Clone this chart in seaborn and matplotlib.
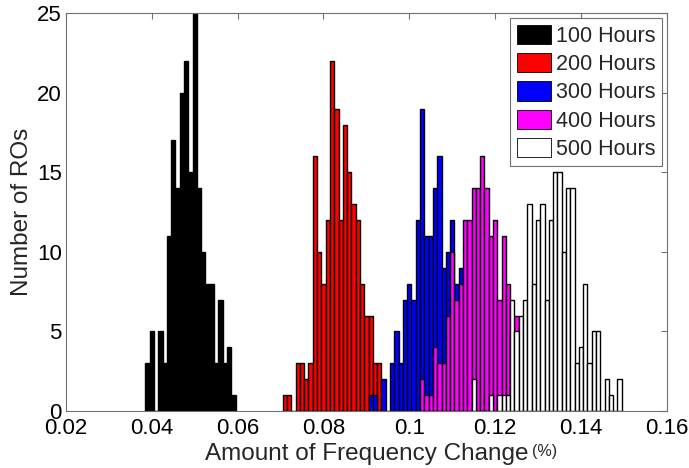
#  Гистограммы сдвига частоты RO после 100...500 часов старения
import numpy as np
import pandas as pd
import matplotlib
matplotlib.use('Agg')
import matplotlib.pyplot as plt
import seaborn as sns

# _________________________________________________
# ДАННЫЕ (ширина бина 0.001, центры бинов кратны 0.001)

BIN_WIDTH = 0.001

labels = ['100 Hours', '200 Hours', '300 Hours', '400 Hours', '500 Hours']
colors = ['#000000', '#ff0000', '#0000ff', '#ff00ff', '#ffffff']

# центр первого бина каждой серии
first_bins = [0.039, 0.071, 0.091, 0.103, 0.115]

counts_100 = [3, 5, 0, 5, 3, 11, 17, 14, 20, 22, 15, 25, 14, 10, 8, 8, 3, 7, 3, 4, 1]
counts_200 = [1, 1, 0, 3, 3, 2, 3, 16, 10, 8, 12, 22, 19, 12, 18, 15, 13, 12, 8, 6,
              6, 3, 3]
counts_300 = [1, 1, 0, 2, 0, 3, 5, 3, 7, 8, 7, 12, 19, 11, 11, 14, 16, 9, 10, 12,
              8, 9, 7, 6, 5, 4, 3, 2, 1]
counts_400 = [2, 1, 1, 4, 3, 3, 6, 10, 7, 8, 12, 12, 14, 14, 16, 14, 11, 12, 7, 11,
              8, 5, 6, 3, 2]
counts_500 = [2, 0, 0, 0, 1, 0, 1, 1, 1, 7, 5, 6, 7, 13, 8, 12, 13, 7, 12, 15,
              15, 10, 14, 14, 3, 4, 8, 3, 5, 5, 0, 2, 1, 0, 2]

all_counts = [counts_100, counts_200, counts_300, counts_400, counts_500]

x_ticks = [0.02, 0.04, 0.06, 0.08, 0.1, 0.12, 0.14, 0.16]
x_tick_labels = ['0.02', '0.04', '0.06', '0.08', '0.1', '0.12', '0.14', '0.16']
y_ticks = [0, 5, 10, 15, 20, 25]

# _________________________________________________
# ОФОРМЛЕНИЕ

sns.set_style('white')
plt.rcParams['font.family'] = ['Liberation Sans', 'DejaVu Sans']

fig = plt.figure(figsize=(6.89, 4.68), dpi=100)
ax = fig.add_axes([0.0958, 0.1218, 0.872, 0.850])

for label, color, first, counts in zip(labels, colors, first_bins, all_counts):
    df = pd.DataFrame({
        'shift': first + np.arange(len(counts)) * BIN_WIDTH,
        'n': counts,
    })
    edges = list(first - BIN_WIDTH / 2 + np.arange(len(counts) + 1) * BIN_WIDTH)
    sns.histplot(data=df, x='shift', weights='n', bins=edges, color=color,
                 edgecolor='black', linewidth=1.0, alpha=1, label=label, ax=ax)

ax.set_xlim(0.02, 0.16)
ax.set_ylim(0, 25)
ax.set_xticks(x_ticks)
ax.set_xticklabels(x_tick_labels)
ax.set_yticks(y_ticks)
ax.tick_params(direction='in', length=4, width=0.8, color='#707070',
               labelsize=16, labelcolor='black', pad=3,
               top=True, right=True)
ax.tick_params(axis='x', pad=5)
for sp in ax.spines.values():
    sp.set_color('#707070')
    sp.set_linewidth(0.8)

ax.set_xlabel('Amount of Frequency Change', fontsize=17.5, labelpad=3)
ax.set_ylabel('Number of ROs', fontsize=17.5, labelpad=3)
ax.annotate('(%)', xy=(1, 0.62), xycoords=ax.xaxis.label, xytext=(3, 0),
            textcoords='offset points', va='center', ha='left', fontsize=11.5)

leg = ax.legend(loc='upper right', bbox_to_anchor=(0.992, 0.987),
                borderaxespad=0, fontsize=15.5, handlelength=1.58,
                handleheight=1.0, handletextpad=0.25, labelspacing=0.29,
                borderpad=0.3, fancybox=False, framealpha=1)
leg.get_frame().set_edgecolor('#707070')
leg.get_frame().set_linewidth(0.8)
for patch in leg.get_patches():
    patch.set_linewidth(0.6)

fig.savefig('out.png', dpi=100, facecolor='white')
